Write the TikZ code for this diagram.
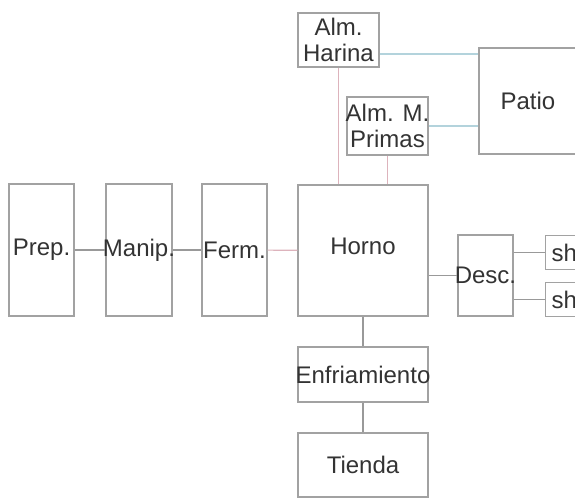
\documentclass[tikz,border=0pt]{standalone}
\usepackage{fontspec}
\setmainfont{Liberation Sans}
\usetikzlibrary{calc, positioning}
\definecolor{boxgray}{HTML}{A2A2A2}
\definecolor{linegray}{HTML}{999999}
\definecolor{linepink}{HTML}{DDB3BC}
\definecolor{lineblue}{HTML}{B3D3DC}
\definecolor{textgray}{HTML}{333333}
\newcommand{\nowd}[1]{\makebox[0pt]{#1}}
\begin{document}
\begin{tikzpicture}[x=0.5pt, y=-0.5pt,
        block/.style={rectangle, draw=boxgray, line width=0.6pt, inner sep=0pt, text=textgray, font=\fontsize{12}{13}\selectfont, align=center},
        line/.style={draw=linegray, line width=0.6pt},
        pline/.style={draw=linepink, line width=0.6pt},
        bline/.style={draw=lineblue, line width=0.6pt}]

        \clip (0,0) rectangle (575,498);

        \node [block, minimum width=32.5pt, minimum height=66pt] (prep) at (41.5,250) {Prep.};
        \node [block, minimum width=33pt, minimum height=66pt] (manip) at (139,250) {\nowd{Manip.}};
        \node [block, minimum width=32.5pt, minimum height=66pt] (ferm) at (234.5,250) {Ferm.};
        \node [block, minimum width=65pt, minimum height=65.5pt, text depth=4.2pt] (horno) at (363,250.5) {Horno};
        \node [block, minimum width=40.5pt, minimum height=27pt] (harina) at (338.5,40) {Alm.\\Harina};
        \node [block, minimum width=40.5pt, minimum height=29pt] (primas) at (387.5,126) {\nowd{Alm. M.}\\Primas};
        \node [block, minimum width=49pt, minimum height=53pt] (patio) at (528,101) {Patio};
        \node [block, minimum width=27.5pt, minimum height=40.5pt] (desc) at (485.5,275.5) {\nowd{Desc.}};
        \node [block, anchor=north west, minimum width=35pt, minimum height=17pt, text width=32pt, align=left, inner xsep=3pt] (sh1) at (545,235) {sh};
        \node [block, anchor=north west, minimum width=35pt, minimum height=17pt, text width=32pt, align=left, inner xsep=3pt] (sh2) at (545,282) {sh};
        \node [block, minimum width=65pt, minimum height=27.5pt] (enfr) at (363,374.5) {\nowd{Enfriamiento}};
        \node [block, minimum width=65pt, minimum height=32pt] (tienda) at (363,465) {Tienda};

        \path [line] (prep) -- (manip);
        \path [line] (manip) -- (ferm);
        \path [pline] (ferm) -- (horno);
        \path [pline] (harina.south) -- (harina.south |- horno.north);
        \path [pline] (primas.south) -- (primas.south |- horno.north);
        \path [bline] ([yshift=-7pt]harina.east) -- ([yshift=-7pt]harina.east -| patio.west);
        \path [bline] (primas.east) -- (primas.east -| patio.west);
        \path [line] (desc.west -| horno.east) -- (desc.west);
        \path [line] (sh1.west -| desc.east) -- (sh1.west);
        \path [line] (sh2.west -| desc.east) -- (sh2.west);
        \path [line] (horno) -- (enfr);
        \path [line] (enfr) -- (tienda);
    \end{tikzpicture}
\end{document}
